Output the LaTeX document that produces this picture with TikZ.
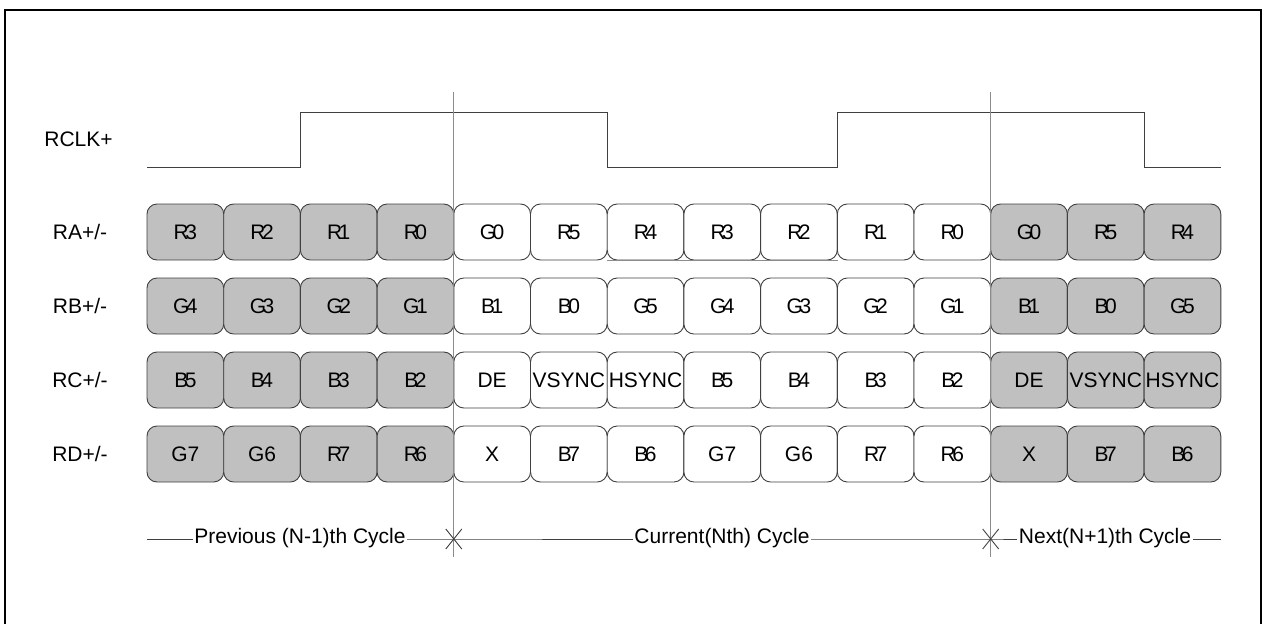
\documentclass[tikz,border=0pt]{standalone}
\usepackage{fontspec}
\setmainfont{Liberation Sans}
\definecolor{cellgray}{RGB}{192,192,192}
\definecolor{linegray}{RGB}{64,64,64}
\definecolor{vgray}{RGB}{140,140,140}
\newcommand\cl[2]{#1\kern-0.17em#2}
\begin{document}
\begin{tikzpicture}[x=1pt,y=-1pt,
  cell/.style={draw=linegray, line width=0.9pt, rounded corners=10pt,
    minimum width=76.7pt, minimum height=56pt, inner sep=0pt,
    font=\fontsize{21}{24}\selectfont},
  rowlbl/.style={font=\fontsize{21}{24}\selectfont, inner sep=0pt},
  cyclbl/.style={font=\fontsize{21}{24}\selectfont, inner sep=1.5pt, anchor=base},
  wire/.style={draw=linegray, line width=0.9pt},
  vline/.style={draw=vgray, line width=1.2pt},
  frame/.style={draw=black, line width=2pt}]
\useasboundingbox (0,0) rectangle (1262,624);
\newcommand\cellrow[3]{%
  \foreach \lab [count=\i from 0] in {#3}{%
    \ifnum\i<4 \def\fc{cellgray}\else\ifnum\i>10 \def\fc{cellgray}\else\def\fc{white}\fi\fi
    \node[cell, fill=\fc] (#1\i) at ({147+76.7*(\i+0.5)},#2) {\lab};
  }}
% frame
\draw[frame] (5,640) -- (5,10) -- (1260.5,10) -- (1260.5,640);
% labels
\node[rowlbl] (lclk) at (78.5,139.5) {RCLK+};
\node[rowlbl] (lra) at (80,232) {RA+/-};
\node[rowlbl] (lrb) at (80,306) {RB+/-};
\node[rowlbl] (lrc) at (80,380) {RC+/-};
\node[rowlbl] (lrd) at (80,454) {RD+/-};
% clock
\draw[wire] (147,167) -- (300.4,167) -- (300.4,112) -- (607.2,112) -- (607.2,167)
  -- (837.3,167) -- (837.3,112) -- (1144.1,112) -- (1144.1,167) -- (1221,167);
% cells
\cellrow{ra}{232}{\cl R3,\cl R2,\cl R1,\cl R0,\cl G0,\cl R5,\cl R4,\cl R3,\cl R2,\cl R1,\cl R0,\cl G0,\cl R5,\cl R4}
\cellrow{rb}{306}{\cl G4,\cl G3,\cl G2,\cl G1,\cl B1,\cl B0,\cl G5,\cl G4,\cl G3,\cl G2,\cl G1,\cl B1,\cl B0,\cl G5}
\cellrow{rc}{380}{\cl B5,\cl B4,\cl B3,\cl B2,DE,VSYNC,HSYNC,\cl B5,\cl B4,\cl B3,\cl B2,DE,VSYNC,HSYNC}
\cellrow{rd}{454}{G7,G6,\cl R7,\cl R6,X,\cl B7,\cl B6,G7,G6,\cl R7,\cl R6,X,\cl B7,\cl B6}
% stray gray line under RA cells
\draw[draw=vgray, line width=1pt] (ra6.south west) -- (ra8.south east);
% vertical cycle boundaries
\coordinate (v1t) at (453.8,92); \coordinate (v1b) at (453.8,557);
\coordinate (v2t) at (990.7,92); \coordinate (v2b) at (990.7,557);
\draw[vline] (v1t) -- (v1b);
\draw[vline] (v2t) -- (v2b);
% cycle line
\coordinate (s) at (147,539); \coordinate (e) at (1221,539);
\coordinate (x1) at (453.8,539); \coordinate (x2) at (990.7,539);
\node[cyclbl] (pc) at (300,543.5) {Previous (N-1)th Cycle};
\node[cyclbl] (cc) at (722,543.5) {Current(Nth) Cycle};
\node[cyclbl] (nc) at (1105,543.5) {Next(N+1)th Cycle};
\draw[wire] (s) -- (pc.west |- s);
\draw[wire] (pc.east |- s) -- (x1) -- (cc.west |- s);
\draw[wire] (cc.east |- s) -- (x2) -- (nc.west |- s);
\draw[wire] (nc.east |- s) -- (e);
\draw[wire] (x1) ++(-8,-10) -- ++(16,20);
\draw[wire] (x1) ++(-8,10) -- ++(16,-20);
\draw[wire] (x2) ++(-8,-10) -- ++(16,20);
\draw[wire] (x2) ++(-8,10) -- ++(16,-20);
\end{tikzpicture}
\end{document}
